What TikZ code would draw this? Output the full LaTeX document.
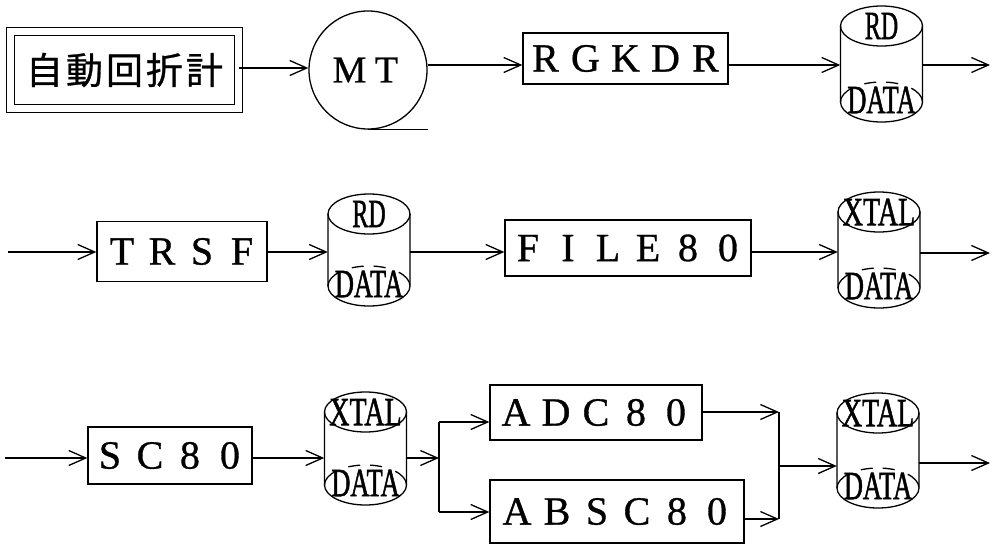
\documentclass[tikz,border=0pt]{standalone}
\usepackage{fontspec}
\usepackage{graphicx}
\setmainfont{Liberation Serif}
\newfontfamily\labfont[FakeBold=0.8]{Liberation Serif}
\newfontfamily\cylfont[FakeBold=1.6]{Liberation Serif}
\newfontfamily\jpfont[FakeBold=0.8]{Noto Sans CJK JP}
\usetikzlibrary{arrows.meta}

% set each character in a fixed-width cell (full-width look)
\def\fwloop#1{\ifx\relax#1\else\makebox[40pt]{#1}\expandafter\fwloop\fi}
\newcommand\fw[1]{\fwloop#1\relax}

\tikzset{
  line/.style={line width=1.3pt},
  arr/.style={line width=1.3pt, -{Straight Barb[length=17pt,width=15pt]}},
  proc/.style={draw, line width=1.3pt, inner sep=0pt, font=\labfont\fontsize{40}{42}\selectfont},
  cylline/.style={line width=1.3pt},
  cyltext/.style={inner sep=0pt, font=\cylfont\fontsize{40}{42}\selectfont},
}

% data cylinder: name, centre x, top y, bottom y, upper label, label x-scale
\newcommand\datacyl[6]{%
  \node[minimum width=82pt, minimum height={#4pt-#3pt}, inner sep=0pt] (#1) at (#2,{(#3+#4)/2}) {};
  \draw[cylline] (#2,#3+20) ellipse[x radius=41, y radius=20];
  \draw[cylline] (#2-41,#3+20) -- (#2-41,#4-20)
    arc[start angle=180, end angle=0, x radius=41, y radius=20] -- (#2+41,#3+20);
  \draw[cylline, dash pattern=on 18pt off 14pt on 12pt off 10pt on 12pt off 14pt on 18pt off 20pt]
    (#2-41,#4-20) arc[start angle=180, end angle=360, x radius=41, y radius=20];
  \node[cyltext] at (#2,#3+20) {\scalebox{#6}[1]{#5}};
  \node[cyltext] at (#2,#4-22) {\scalebox{0.66}[1]{DATA}};
}

\begin{document}
\begin{tikzpicture}[x=1pt,y=-1pt]
\useasboundingbox (0,0) rectangle (994,546);

% ---- first row ----
\node[draw, double, double distance=6.8pt, line width=1.3pt, minimum width=228pt,
      minimum height=77pt, inner sep=0pt, font=\jpfont\fontsize{37}{39}\selectfont]
      (auto) at (124.5,70) {\fw{自動回折計}};
\node[draw, circle, line width=1.3pt, minimum size=118pt, inner sep=0pt,
      font=\labfont\fontsize{38}{40}\selectfont] (mt) at (368,70)
      {\makebox[37pt]{M}\makebox[37pt]{T}};
\draw[line] (mt.south) -- ++(60,0);
\node[proc, minimum width=205pt, minimum height=51pt] (rgkdr) at (625.5,58.5) {\fw{RGKDR}};
\datacyl{cyl1}{881.5}{6}{122}{RD}{0.6}

\coordinate (ya) at (0,68);
\coordinate (yb) at (0,65);
\coordinate (out1) at (990,65);
\draw[arr] (auto.east |- ya) -- (mt.west |- ya);
\draw[arr] (mt.east |- yb) -- (rgkdr.west |- yb);
\draw[arr] (rgkdr.east |- yb) -- (cyl1.west |- yb);
\draw[arr] (cyl1.east |- yb) -- (out1);

% ---- second row ----
\node[proc, minimum width=170pt, minimum height=60pt] (trsf) at (182,251.5) {\fw{TRSF}};
\datacyl{cyl2}{369}{194}{306}{RD}{0.6}
\node[proc, minimum width=246pt, minimum height=56pt] (file) at (628,248) {\fw{FILE80}};
\datacyl{cyl3}{879}{192}{308}{XTAL}{0.7}

\coordinate (in2) at (8,252);
\coordinate (yc) at (0,252);
\coordinate (out2) at (990,253);
\draw[arr] (in2) -- (trsf.west |- yc);
\draw[arr] (trsf.east |- yc) -- (cyl2.west |- yc);
\draw[arr] (cyl2.east |- yc) -- (file.west |- yc);
\draw[arr] (file.east |- yc) -- (cyl3.west |- yc);
\draw[arr] (cyl3.east |- out2) -- (out2);

% ---- third row ----
\node[proc, minimum width=164pt, minimum height=57pt] (sc) at (170,455.5) {\fw{SC80}};
\datacyl{cyl4}{365.5}{392}{505}{XTAL}{0.7}
\node[proc, minimum width=212pt, minimum height=55pt] (adc) at (596,412.5) {\fw{ADC80}};
\node[proc, minimum width=254pt, minimum height=63pt] (absc) at (617,511.5) {\fw{ABSC80}};
\datacyl{cyl5}{878}{393}{508}{XTAL}{0.7}

\coordinate (in3) at (5,458);
\coordinate (j1) at (439,458);
\coordinate (ja) at (439,422);
\coordinate (jb) at (439,512);
\coordinate (ka) at (779,412);
\coordinate (kb) at (779,519);
\coordinate (kc) at (779,466);
\coordinate (out3) at (990,463);

\draw[arr] (in3) -- (sc.west |- in3);
\draw[arr] (sc.east |- in3) -- (cyl4.west |- in3);
\draw[arr] (cyl4.east |- j1) -- (j1);
\draw[line] (ja) -- (jb);
\draw[arr] (ja) -- (adc.west |- ja);
\draw[arr] (jb) -- (absc.west |- jb);
\draw[arr] (adc.east |- ka) -- (ka);
\draw[arr] (absc.east |- kb) -- (kb);
\draw[line] (ka) -- (kb);
\draw[arr] (kc) -- (cyl5.west |- kc);
\draw[arr] (cyl5.east |- out3) -- (out3);
\end{tikzpicture}
\end{document}
